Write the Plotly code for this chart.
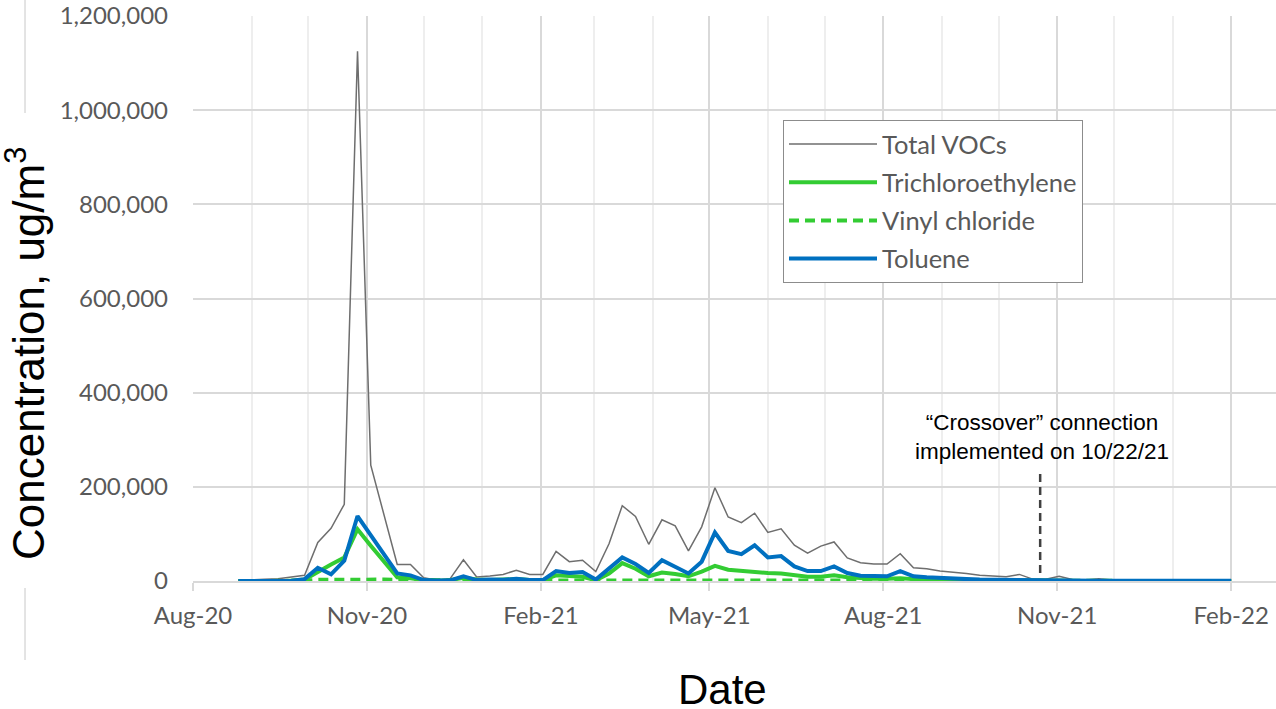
import plotly.graph_objects as go

# ---------------- data (weekly sampling dates) ----------------
dates = [
    "2020-08-25", "2020-09-01", "2020-09-08", "2020-09-15", "2020-09-22", "2020-09-29",
    "2020-10-06", "2020-10-13", "2020-10-20", "2020-10-27", "2020-11-03", "2020-11-10",
    "2020-11-17", "2020-11-24", "2020-12-01", "2020-12-08", "2020-12-15", "2020-12-22",
    "2020-12-29", "2021-01-05", "2021-01-12", "2021-01-19", "2021-01-26", "2021-02-02",
    "2021-02-09", "2021-02-16", "2021-02-23", "2021-03-02", "2021-03-09", "2021-03-16",
    "2021-03-23", "2021-03-30", "2021-04-06", "2021-04-13", "2021-04-20", "2021-04-27",
    "2021-05-04", "2021-05-11", "2021-05-18", "2021-05-25", "2021-06-01", "2021-06-08",
    "2021-06-15", "2021-06-22", "2021-06-29", "2021-07-06", "2021-07-13", "2021-07-20",
    "2021-07-27", "2021-08-03", "2021-08-10", "2021-08-17", "2021-08-24", "2021-08-31",
    "2021-09-07", "2021-09-14", "2021-09-21", "2021-09-28", "2021-10-05", "2021-10-12",
    "2021-10-19", "2021-10-26", "2021-11-02", "2021-11-09", "2021-11-16", "2021-11-23",
    "2021-11-30", "2021-12-07", "2021-12-14", "2021-12-21", "2021-12-28", "2022-01-04",
    "2022-01-11", "2022-01-18", "2022-01-25", "2022-02-01",
]

total_vocs = [
    1500, 2000, 3500, 5000, 8000, 12000,
    82000, 112000, 163000, 1125000, 246000, 142000,
    35000, 35000, 7000, 1500, 5000, 45000,
    8600, 10700, 14000, 23000, 14000, 14000,
    63000, 41000, 44000, 20000, 79000, 160000,
    137000, 78000, 130000, 117000, 64000, 115000,
    198000, 136000, 124000, 144000, 103000, 111000,
    76000, 59000, 74000, 83000, 49000, 39000,
    36000, 36000, 58000, 28000, 26000, 21000,
    19000, 16000, 12000, 11000, 9000, 14000,
    4000, 3500, 10000, 3000, 2000, 5000,
    2000, 1500, 1200, 1000, 1000, 1000,
    1000, 1000, 1000, 1000,
]

trichloroethylene = [
    0, 0, 200, 300, 500, 3000,
    20000, 35000, 50000, 110000, 75000, 42000,
    8000, 6000, 1500, 500, 1500, 7000,
    3000, 2000, 3000, 4000, 2000, 2000,
    12000, 10000, 9000, 1500, 16000, 38000,
    26000, 10000, 18000, 15000, 10000, 20000,
    32000, 24000, 21000, 19000, 17000, 16000,
    12000, 9000, 9000, 12000, 8000, 6000,
    5000, 5000, 6000, 4000, 3000, 3000,
    2000, 2000, 1500, 1000, 1000, 800,
    500, 300, 500, 200, 100, 100,
    100, 100, 100, 100, 100, 100,
    100, 100, 100, 100,
]

vinyl_chloride = [
    0, 0, 0, 0, 0, 500,
    2500, 3000, 3500, 4000, 3000, 3000,
    2500, 2000, 1000, 500, 500, 1500,
    1000, 1000, 1000, 1500, 1000, 1000,
    2500, 2500, 2500, 1000, 2500, 3000,
    3000, 2500, 3000, 3000, 2500, 3000,
    3000, 3000, 3000, 3000, 3000, 3000,
    2500, 2500, 2500, 2500, 2500, 2000,
    2000, 2000, 2000, 2000, 1500, 1500,
    1500, 1500, 1000, 1000, 500, 500,
    300, 200, 200, 100, 100, 100,
    0, 0, 0, 0, 0, 0,
    0, 0, 0, 0,
]

toluene = [
    0, 0, 200, 300, 500, 4000,
    28000, 14000, 43000, 138000, 97000, 56000,
    16000, 12000, 2000, 800, 1500, 10000,
    2000, 3000, 2500, 5000, 2000, 2000,
    21000, 17000, 19000, 3000, 26000, 50000,
    36000, 17000, 44000, 31000, 16000, 41000,
    103000, 64000, 57000, 76000, 50000, 53000,
    31000, 21000, 21000, 31000, 17000, 11000,
    10000, 10000, 21000, 10000, 8000, 6000,
    5000, 4000, 3000, 2500, 2000, 3000,
    1500, 1000, 1500, 800, 500, 500,
    500, 500, 500, 500, 500, 500,
    500, 500, 500, 500,
]

crossover_date = "2021-10-23"
y_ticks = [0, 200000, 400000, 600000, 800000, 1000000, 1200000]

# ---------------- figure ----------------
fig = go.Figure()

fig.add_trace(go.Scatter(x=dates, y=total_vocs, name="Total VOCs", mode="lines",
                         line=dict(color="#6e6e6e", width=1.5), legendgroup="a"))
fig.add_trace(go.Scatter(x=dates, y=trichloroethylene, name="Trichloroethylene", mode="lines",
                         line=dict(color="#33cc33", width=4), legendgroup="b"))
fig.add_trace(go.Scatter(x=dates, y=vinyl_chloride, name="Vinyl chloride", mode="lines",
                         line=dict(color="#33cc33", width=4, dash="10px,6px"), legendgroup="c"))
fig.add_trace(go.Scatter(x=dates, y=toluene, name="Toluene", mode="lines",
                         line=dict(color="#0070c0", width=4), legendgroup="d"))

W, H = 1276, 709
PL, PT, PB = 193, 16, 581            # plot area edges in pixels
L, T, B, R = PL, PT, H - PB, 0
pw = W - L - R
ph = H - T - B

def px_x(p):
    return (p - PL) / pw

def px_y(p):
    return (PB - p) / ph

tick_font = dict(family="Lato", size=24, color="#595959")

fig.update_layout(
    width=W, height=H,
    margin=dict(l=L, r=R, t=T, b=B, pad=0),
    paper_bgcolor="white", plot_bgcolor="white",
    showlegend=True,
    legend=dict(
        x=px_x(783), y=px_y(120), xanchor="left", yanchor="top",
        bgcolor="white", bordercolor="#8c8c8c", borderwidth=1,
        font=dict(family="Lato", size=25.5, color="#595959"),
        itemwidth=88, tracegroupgap=2,
    ),
    xaxis=dict(
        type="date",
        range=["2020-08-01", "2022-02-24 17:00"],
        dtick="M3", tick0="2020-08-01", tickformat="%b-%y",
        tickfont=tick_font,
        showgrid=True, gridcolor="#d9d9d9", gridwidth=1.5,
        minor=dict(dtick="M1", tick0="2020-08-01", showgrid=True,
                   gridcolor="#eeeeee", gridwidth=1.5),
        showline=True, linecolor="#d9d9d9", linewidth=1.5,
        ticks="outside", ticklen=8, tickcolor="#d9d9d9", tickwidth=1.5,
        ticklabelstandoff=4,
        zeroline=False,
    ),
    yaxis=dict(
        range=[0, 1200000],
        tickvals=y_ticks, tickformat=",d",
        tickfont=tick_font,
        showgrid=True, gridcolor="#d9d9d9", gridwidth=1.5,
        zeroline=False, showline=False, ticks="",
        ticklabelstandoff=24,
    ),
)

# axis titles as annotations
fig.add_annotation(text="Concentration, ug/m<sup>3</sup>", xref="paper", yref="paper",
                   x=px_x(25), y=px_y(354), xanchor="center", yanchor="middle",
                   textangle=-90, showarrow=False,
                   font=dict(family="Liberation Sans", size=44, color="black"))
fig.add_annotation(text="Date", xref="paper", yref="paper",
                   x=px_x(722), y=px_y(689), xanchor="center", yanchor="middle",
                   showarrow=False,
                   font=dict(family="Liberation Sans", size=42, color="black"))

# crossover note
fig.add_annotation(text="\u201cCrossover\u201d connection<br>implemented on 10/22/21",
                   x="2021-10-24", y=306000, xref="x", yref="y",
                   xanchor="center", yanchor="middle", showarrow=False, align="center",
                   font=dict(family="Liberation Sans", size=22.5, color="black"))
fig.add_shape(type="line", xref="x", yref="y",
              x0=crossover_date, x1=crossover_date, y0=17000, y1=228000,
              line=dict(color="#404040", width=2.5, dash="8px,5px"))

# decorative thin vertical line at far left (broken around the y title)
for y0p, y1p in [(0, 113), (588, 660)]:
    fig.add_shape(type="line", xref="paper", yref="paper",
                  x0=px_x(25), x1=px_x(25), y0=px_y(y0p), y1=px_y(y1p),
                  line=dict(color="#c8c8c8", width=1))

fig.write_html("out.html", config={"displayModeBar": False},
               post_script="document.body.style.margin='0';")
